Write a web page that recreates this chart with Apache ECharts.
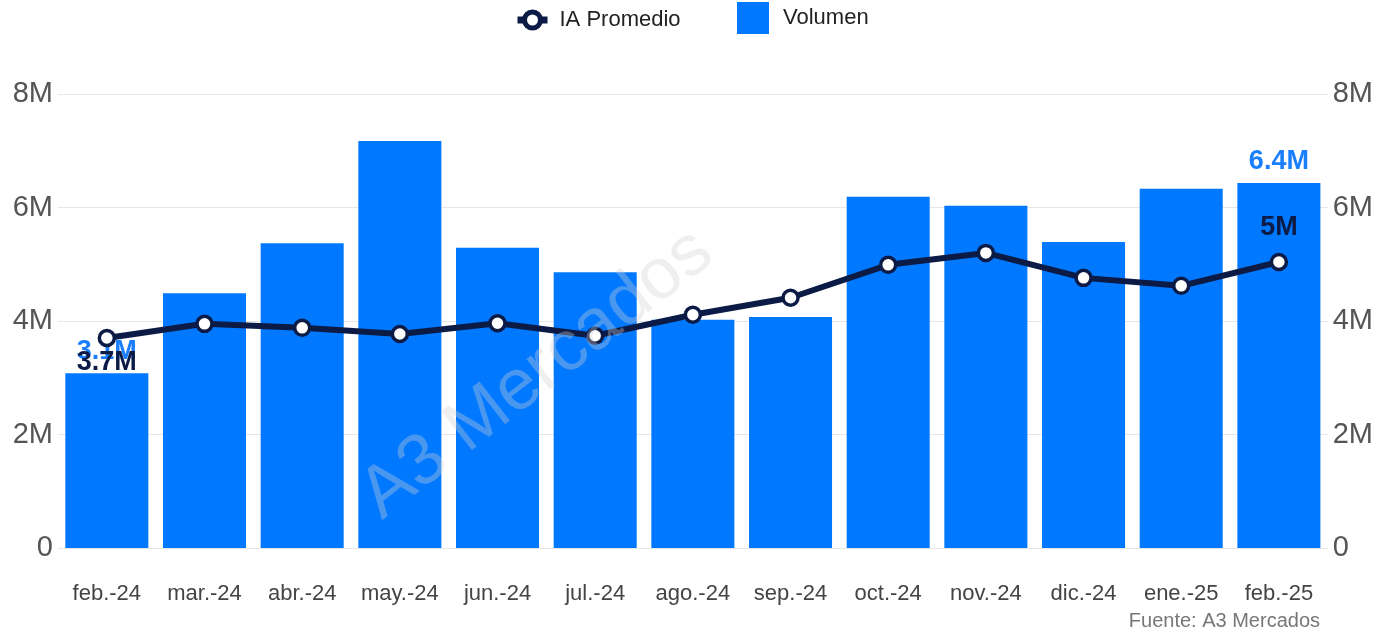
<!DOCTYPE html>
<html>
<head>
<meta charset="utf-8">
<script src="https://cdn.jsdelivr.net/npm/echarts@6/dist/echarts.min.js"></script>
<style>
html,body{margin:0;padding:0;background:#fff;}
#chart{width:1376px;height:633px;}
</style>
</head>
<body>
<div id="chart"></div>
<script>
const categories = ['feb.-24','mar.-24','abr.-24','may.-24','jun.-24','jul.-24','ago.-24','sep.-24','oct.-24','nov.-24','dic.-24','ene.-25','feb.-25'];
const volumen = [3080000,4490000,5370000,7170000,5290000,4860000,4020000,4070000,6190000,6030000,5390000,6330000,6430000];
const iaPromedio = [3700000,3950000,3880000,3770000,3960000,3740000,4110000,4410000,4990000,5200000,4760000,4620000,5040000];
const yTicks = [0,2000000,4000000,6000000,8000000];

const FONT = '"Liberation Sans", Arial, Helvetica, sans-serif';
const NAVY = '#0b1b45';
const BLUE = '#0078ff';

function fmtM(v){
  if (v === 0) return '0';
  let s = (v/1e6).toFixed(1);
  if (s.endsWith('.0')) s = s.slice(0,-2);
  return s + 'M';
}
const lastIdx = categories.length - 1;

const barData = volumen.map((v,i)=>({
  value: v,
  label: {show: i===0 || i===lastIdx}
}));
const lineData = iaPromedio.map((v,i)=>({
  value: v,
  label: {show: i===0 || i===lastIdx, position: i===0 ? 'bottom' : 'top', distance: i===0 ? 2 : 12}
}));

const chart = echarts.init(document.getElementById('chart'), null, {renderer:'canvas'});
const yAxisCommon = {
  type:'value', min: yTicks[0], max: yTicks[yTicks.length-1], interval: 2000000,
  axisLine:{show:false}, axisTick:{show:false},
  splitLine:{show:true, lineStyle:{color:'#e6e6e6', width:1}},
  axisLabel:{formatter: fmtM, color:'#555', fontSize:29, fontFamily:FONT, margin:5, padding:[5,0,0,0]}
};
chart.setOption({
  animation:false,
  textStyle:{fontFamily:FONT},
  grid:{left:58, right:48, top:94, bottom:85, containLabel:false},
  legend:[
    {data:[{name:'IA Promedio', lineStyle:{width:7, color:NAVY}, itemStyle:{color:'#fff', borderColor:NAVY, borderWidth:5}}],
     left:514, top:9, padding:0, itemWidth:30, itemHeight:20,
     textStyle:{fontSize:22, color:'#222', fontFamily:FONT, padding:[0,0,0,7]}},
    {data:[{name:'Volumen', icon:'rect'}], left:737, top:2, padding:0, itemWidth:32, itemHeight:32,
     textStyle:{fontSize:22, color:'#222', fontFamily:FONT, padding:[2,0,0,9]}}
  ],
  xAxis:{
    type:'category', data:categories,
    axisLine:{show:false}, axisTick:{show:false},
    axisLabel:{interval:0, color:'#444', fontSize:22, fontFamily:FONT, margin:35}
  },
  yAxis:[
    Object.assign({position:'left'}, yAxisCommon),
    Object.assign({position:'right'}, yAxisCommon, {splitLine:{show:false}})
  ],
  graphic:[
    {type:'text', x:537, y:374, rotation: 38*Math.PI/180, z:100,
     style:{text:'A3 Mercados', fontSize:72, fontFamily:FONT, fill:'rgba(210,210,210,0.35)', x:0, y:0, align:'center', verticalAlign:'middle'}
    },
    {type:'text', right:56, bottom:2,
     style:{text:'Fuente: A3 Mercados', fontSize:20, fontFamily:FONT, fill:'#777'}}
  ],
  series:[
    {name:'Volumen', type:'bar', yAxisIndex:0, data:barData, barWidth:'85%',
     itemStyle:{color:BLUE},
     label:{position:'top', distance:8, formatter:p=>fmtM(p.value), color:'#1a7fff', fontSize:27, fontWeight:'bold', fontFamily:FONT},
     z:2},
    {name:'IA Promedio', type:'line', yAxisIndex:0, data:lineData,
     symbol:'circle', symbolSize:15, showAllSymbol:true,
     lineStyle:{color:NAVY, width:6},
     itemStyle:{color:'#fff', borderColor:NAVY, borderWidth:3.5},
     label:{formatter:p=>fmtM(p.value), color:NAVY, fontSize:27, fontWeight:'bold', fontFamily:FONT},
     labelLayout:{hideOverlap:false},
     z:5}
  ]
});
</script>
</body>
</html>
